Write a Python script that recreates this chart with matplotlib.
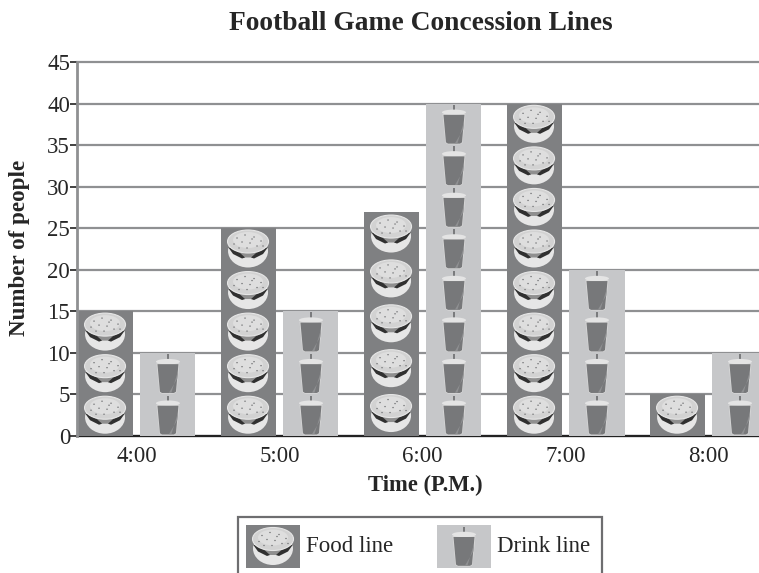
import numpy as np
import matplotlib
matplotlib.use('Agg')
import matplotlib.pyplot as plt
from matplotlib.patches import Ellipse, Polygon, Rectangle
from matplotlib.transforms import Affine2D

plt.rcParams['font.family'] = ['Liberation Serif', 'DejaVu Serif']

times = ['4:00', '5:00', '6:00', '7:00', '8:00']
food_line = [15, 25, 27, 40, 5]
drink_line = [10, 15, 40, 20, 10]
y_ticks = list(range(0, 50, 5))

FOOD_BG = '#7f8082'
DRINK_BG = '#c6c7c9'
GRID = '#8f9092'
TEXT = '#262626'

# (x, y) of the sesame seeds on the bun, in pixels from the icon centre
SEEDS = [(-11, 11), (-3, 14), (6, 12), (13, 8), (-14, 5), (-6, 7), (2, 6),
         (9, 3), (-9, 1), (-1, 1), (15, 3), (4, 10)]


def draw_burger(ax, tr):
    parts = [
        Ellipse((0, -2), 40, 33, fc='#e6e6e6', ec='none'),
        Polygon([(-11, -2), (11, -2), (6, -8.5), (-6, -8.5)], closed=True, fc='#8f8f8f', ec='none'),
        Polygon([(-20, 2), (-15, -5), (-6, -9.5), (-3, -8.5), (-8, -4), (-17, 1)],
                closed=True, fc='#303030', ec='none'),
        Polygon([(20, 2), (15, -5), (6, -9.5), (3, -8.5), (8, -4), (17, 1)],
                closed=True, fc='#303030', ec='none'),
        Ellipse((0, 7.5), 41, 23, fc='#d2d2d2', ec='#e6e6e6', lw=0.8),
        Ellipse((0, 9), 30, 16, fc='#dedede', ec='none'),
    ]
    parts += [Ellipse(s, 1.8, 1.4, fc='#828385', ec='none') for s in SEEDS]
    for p in parts:
        p.set_transform(tr)
        p.set_zorder(3)
        ax.add_artist(p)


def draw_drink(ax, tr):
    parts = [
        Rectangle((-1, 13), 2, 6.7, fc='#7a7b7d', ec='none'),
        Polygon([(-11.5, 10.5), (11.5, 10.5), (8.5, -18.5), (6, -20), (-6, -20), (-8.5, -18.5)],
                closed=True, fc='#d8d8d8', ec='none'),
        Ellipse((0, 12), 24, 5.5, fc='#e4e4e4', ec='none'),
        Polygon([(-10.5, 9.5), (10.5, 9.5), (8, -18), (6, -19.3), (-6, -19.3), (-8, -18)],
                closed=True, fc='#77787a', ec='none'),
        Polygon([(9.8, 2), (9.3, -5), (1, -19), (3.5, -19)], closed=True, fc='#8f9092', ec='none'),
    ]
    for p in parts:
        p.set_transform(tr)
        p.set_zorder(3)
        ax.add_artist(p)


fig = plt.figure(figsize=(7.59, 5.73), dpi=100)
ax = fig.add_axes([77 / 759, 1 - 436 / 573, 682 / 759, 374 / 573])
ax.set_xlim(-0.416, 4.353)
ax.set_ylim(0, 45)

x = np.arange(len(times))
offset = 0.22
width = 0.385
ax.bar(x - offset, food_line, width, color=FOOD_BG, zorder=2)
ax.bar(x + offset, drink_line, width, color=DRINK_BG, zorder=2)

# one icon per 5 people, stretched evenly over the height of the bar
px_x = 682 / (4.353 + 0.416)
px_y = 374 / 45


def stack_icons(xpos, values, draw):
    for xc, v in zip(xpos, values):
        n = int(v // 5)
        for i in range(n):
            yc = (i + 0.5) * v / n
            tr = Affine2D().scale(1 / px_x, 1 / px_y).translate(xc, yc) + ax.transData
            draw(ax, tr)


stack_icons(x - offset, food_line, draw_burger)
stack_icons(x + offset, drink_line, draw_drink)

# horizontal rules and frame
ax.set_yticks(y_ticks)
ax.grid(axis='y', color=GRID, lw=1.6, zorder=1, clip_on=False)
ax.set_axisbelow(True)
for s in ['top', 'right']:
    ax.spines[s].set_visible(False)
ax.spines['left'].set_color(GRID)
ax.spines['left'].set_linewidth(2)
ax.spines['bottom'].set_color('#222222')
ax.spines['bottom'].set_linewidth(1.6)
ax.spines['bottom'].set_zorder(1)
ax.tick_params(axis='y', length=5, width=1.3, color='#333333', labelsize=16.5, labelcolor=TEXT, pad=0)
ax.tick_params(axis='x', length=0, labelsize=16.5, labelcolor=TEXT, pad=7)
ax.set_xticks(x, times)

fig.text(421 / 759, 1 - 24 / 573, 'Football Game Concession Lines', ha='center', va='center',
         fontsize=19.8, fontweight='bold', color=TEXT)
fig.text(425 / 759, 1 - 485 / 573, 'Time (P.M.)', ha='center', va='center',
         fontsize=16.3, fontweight='bold', color=TEXT)
fig.text(20 / 759, 1 - 248 / 573, 'Number of people', ha='center', va='center', rotation=90,
         fontsize=16.6, fontweight='bold', color=TEXT)

# legend, laid out on a full-figure overlay in pixel units
lg = fig.add_axes([0, 0, 1, 1], facecolor='none')
lg.set_xlim(0, 759)
lg.set_ylim(573, 0)
lg.axis('off')
lg.add_patch(Rectangle((238, 517), 364, 70, fc='white', ec='#6e6e70', lw=1.6))
lg.add_patch(Rectangle((246, 525), 54, 43, fc=FOOD_BG, ec='none'))
lg.add_patch(Rectangle((437, 525), 54, 43, fc=DRINK_BG, ec='none'))
draw_burger(lg, Affine2D().scale(1, -1).translate(273, 546.5) + lg.transData)
draw_drink(lg, Affine2D().scale(1, -1).translate(464, 546.5) + lg.transData)
lg.text(306, 547, 'Food line', va='center', fontsize=16.5, color=TEXT)
lg.text(497, 547, 'Drink line', va='center', fontsize=16.5, color=TEXT)

fig.savefig('out.png', dpi=100)
